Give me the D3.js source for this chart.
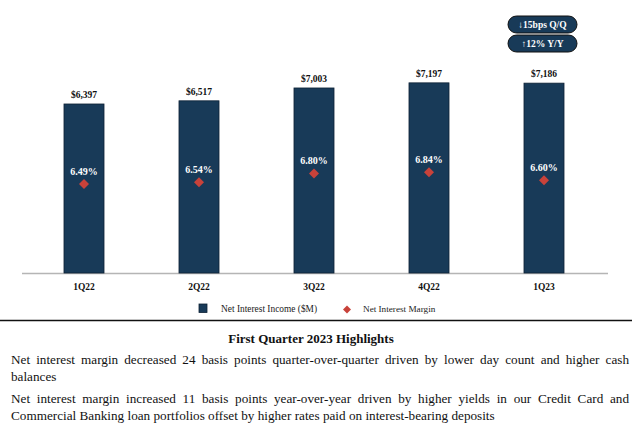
<!DOCTYPE html>
<html><head><meta charset="utf-8">
<script src="https://cdn.jsdelivr.net/npm/d3@7"></script>
<style>
html,body{margin:0;padding:0;background:#fff;}
svg{display:block;}
</style></head>
<body>
<svg id="chart" width="640" height="441"></svg>
<script>
const quarters = ["1Q22","2Q22","3Q22","4Q22","1Q23"];
const netInterestIncome = [6397, 6517, 7003, 7197, 7186];
const netInterestMargin = [6.49, 6.54, 6.80, 6.84, 6.60];
const incomeLabels = ["$6,397","$6,517","$7,003","$7,197","$7,186"];
const marginLabels = ["6.49%","6.54%","6.80%","6.84%","6.60%"];
const badges = ["\u219315bps Q/Q","\u219112% Y/Y"];
const legendItems = ["Net Interest Income ($M)","Net Interest Margin"];
const highlightsTitle = "First Quarter 2023 Highlights";
const highlightLines = [
  ["Net interest margin decreased 24 basis points quarter-over-quarter driven by lower day count and higher cash",
   "balances"],
  ["Net interest margin increased 11 basis points year-over-year driven by higher yields in our Credit Card and",
   "Commercial Banking loan portfolios offset by higher rates paid on interest-bearing deposits"]
];

const NAVY = "#183a58";
const RED = "#c8423a";
const FONT = "'Liberation Serif','Times New Roman',serif";
const svg = d3.select("#chart").style("font-family", FONT);

const x = d3.scaleBand().domain(quarters).range([26.5, 601.5]).paddingInner(0.652).paddingOuter(0.326);
const y = d3.scaleLinear().domain([0, 8000]).range([273, 273 - 0.02642 * 8000]);
const yM = d3.scaleLinear().domain([6.0, 7.0]).range([200.7, 166.7]);

// axis baseline
svg.append("line").attr("x1", 22).attr("x2", 608).attr("y1", 273.5).attr("y2", 273.5)
  .attr("stroke", "#b5b5b5").attr("stroke-width", 1.5);

// bars
svg.append("g").selectAll("rect").data(quarters).join("rect")
  .attr("x", d => x(d)).attr("width", x.bandwidth())
  .attr("y", (d,i) => y(netInterestIncome[i]))
  .attr("height", (d,i) => y(0) - y(netInterestIncome[i]))
  .attr("fill", NAVY).attr("stroke", "#0d2135").attr("stroke-width", 0.8);

// value labels
svg.append("g").selectAll("text").data(quarters).join("text")
  .attr("x", d => x(d) + x.bandwidth()/2)
  .attr("y", (d,i) => y(netInterestIncome[i]) - 6)
  .attr("text-anchor", "middle").attr("font-weight", "bold").attr("font-size", 9.5)
  .attr("fill", "#111").text((d,i) => incomeLabels[i]);

// margin labels
svg.append("g").selectAll("text").data(quarters).join("text")
  .attr("x", d => x(d) + x.bandwidth()/2)
  .attr("y", (d,i) => yM(netInterestMargin[i]) - 9.5)
  .attr("text-anchor", "middle").attr("font-weight", "bold").attr("font-size", 10)
  .attr("fill", "#fff").text((d,i) => marginLabels[i]);

// diamonds
svg.append("g").selectAll("path").data(quarters).join("path")
  .attr("transform", (d,i) => `translate(${x(d) + x.bandwidth()/2},${yM(netInterestMargin[i])}) rotate(45)`)
  .attr("d", d3.symbol().type(d3.symbolSquare).size(50)())
  .attr("fill", RED);

// x tick labels
const xAxis = svg.append("g").attr("transform", "translate(0,273)")
  .call(d3.axisBottom(x).tickSize(0).tickPadding(10));
xAxis.select(".domain").remove();
xAxis.selectAll("text").attr("font-family", FONT).attr("font-weight", "bold")
  .attr("font-size", 9.5).attr("fill", "#111");

// legend
const lg = svg.append("g");
lg.append("rect").attr("x", 199).attr("y", 304).attr("width", 8).attr("height", 8.5)
  .attr("fill", NAVY).attr("stroke", "#0d2135").attr("stroke-width", 0.8);
lg.append("text").attr("x", 221).attr("y", 312).attr("font-size", 9.4).attr("fill", "#222").text(legendItems[0]);
lg.append("path").attr("transform", "translate(347,309.5) rotate(45)")
  .attr("d", d3.symbol().type(d3.symbolSquare).size(32)()).attr("fill", RED);
lg.append("text").attr("x", 363).attr("y", 312).attr("font-size", 9.2).attr("fill", "#222").text(legendItems[1]);

// badges
const bx = 508, bw = 69, bh = 17;
badges.forEach((b, i) => {
  const by = 16 + i * 19;
  svg.append("rect").attr("x", bx).attr("y", by).attr("width", bw).attr("height", bh)
    .attr("rx", 8.5).attr("ry", 8.5).attr("fill", NAVY).attr("stroke", "#111").attr("stroke-width", 1);
  svg.append("text").attr("x", bx + bw/2).attr("y", by + bh/2 + 3.3)
    .attr("text-anchor", "middle").attr("font-weight", "bold").attr("font-size", 9.5)
    .attr("fill", "#fff").text(b);
});

// separator
svg.append("line").attr("x1", 0).attr("x2", 632).attr("y1", 320.5).attr("y2", 320.5)
  .attr("stroke", "#111").attr("stroke-width", 1.5);

// highlights title
svg.append("text").attr("x", 311).attr("y", 343).attr("text-anchor", "middle")
  .attr("font-weight", "bold").attr("font-size", 13).attr("fill", "#111").text(highlightsTitle);

// justified paragraphs (explicit line breaks, last line left-aligned)
const left = 11, right = 629, fs = 13.2, lh = 17;
const measure = svg.append("text").attr("font-size", fs).attr("visibility", "hidden");
function w(s){ measure.text(s); return measure.node().getComputedTextLength(); }
const spaceW = w("a a") - w("aa");
let yPos = 364;
highlightLines.forEach(lines => {
  lines.forEach((line, li) => {
    const ln = line.split(" ");
    const t = svg.append("text").attr("y", yPos).attr("font-size", fs).attr("fill", "#111");
    const last = li === lines.length - 1;
    const ww = ln.map(w);
    const total = d3.sum(ww);
    const gap = (!last && ln.length > 1) ? (right - left - total) / (ln.length - 1) : spaceW;
    let xx = left;
    ln.forEach((word, k) => {
      t.append("tspan").attr("x", xx).text(word);
      xx += ww[k] + gap;
    });
    yPos += lh;
  });
  yPos += 5;
});
measure.remove();
</script>
</body></html>
